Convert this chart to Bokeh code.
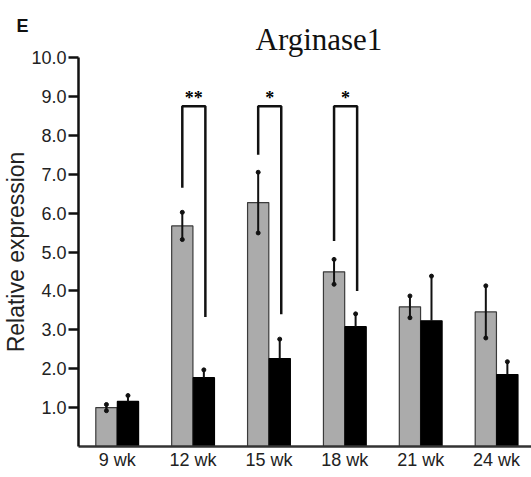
from bokeh.plotting import figure
from bokeh.models import Range1d, FixedTicker, Title, CustomJSTickFormatter
from bokeh.core.properties import value
from bokeh.embed import file_html
from bokeh.resources import INLINE

# ---- data ----
weeks = ["9 wk", "12 wk", "15 wk", "18 wk", "21 wk", "24 wk"]
gray_vals = [1.0, 5.67, 6.27, 4.49, 3.59, 3.46]
gray_err = [0.08, 0.35, 0.78, 0.32, 0.28, 0.67]
black_vals = [1.16, 1.77, 2.26, 3.08, 3.23, 1.85]
black_err = [0.15, 0.2, 0.5, 0.33, 1.15, 0.33]
y_ticks = [1, 2, 3, 4, 5, 6, 7, 8, 9, 10]

sig_groups = [1, 2, 3]
sig_left_bottom = [6.65, 7.5, 5.28]
sig_right_bottom = [3.33, 3.4, 4.0]
sig_top = [8.75, 8.75, 8.75]
sig_stars = ["**", "*", "*"]
sig_star_y = [8.95, 8.95, 8.95]

title_text = "Arginase1"
panel_letter = "E"
y_label = "Relative expression"

OFF = 0.142
W = 0.28

xs = list(range(len(weeks)))
gx = [x - OFF for x in xs]
bx = [x + OFF for x in xs]

p = figure(width=531, height=472, output_backend="svg", toolbar_location=None,
           x_range=Range1d(-0.51, 5.46), y_range=Range1d(0, 10))
p.min_border_left = 60
p.min_border_right = 0
p.min_border_top = 0
p.min_border_bottom = 0
p.outline_line_color = None
p.grid.visible = False
p.background_fill_color = "white"

# bars
p.vbar(x=gx, top=gray_vals, width=W, bottom=0, fill_color="#ababab", line_color="#3a3a3a", line_width=1.2)
g_lo = [v - e for v, e in zip(gray_vals, gray_err)]
g_hi = [v + e for v, e in zip(gray_vals, gray_err)]
p.segment(x0=gx, x1=gx, y0=g_lo, y1=g_hi, line_color="#111111", line_width=2)
p.scatter(x=gx + gx, y=g_lo + g_hi, size=4, color="#111111")

p.vbar(x=bx, top=black_vals, width=W, bottom=0, fill_color="#000000", line_color="#000000", line_width=1.2)
b_hi = [v + e for v, e in zip(black_vals, black_err)]
p.segment(x0=bx, x1=bx, y0=black_vals, y1=b_hi, line_color="#111111", line_width=2)
p.scatter(x=bx, y=b_hi, size=4, color="#111111")

# significance brackets
bxs, bys = [], []
for g, lb, rb, t in zip(sig_groups, sig_left_bottom, sig_right_bottom, sig_top):
    lx = g - OFF
    rx = g + OFF + 0.02
    bxs.append([lx, lx, rx, rx])
    bys.append([lb, t, t, rb])
p.multi_line(xs=bxs, ys=bys, line_color="#111111", line_width=2.5)
p.text(x=[g + 0.01 for g in sig_groups], y=sig_star_y, text=sig_stars,
       text_align="center", text_baseline="alphabetic", text_font=value("Liberation Serif"),
       text_font_size="18px", text_font_style="bold", text_color="#000000")

# axes
yax = p.yaxis[0]
yax.ticker = FixedTicker(ticks=y_ticks)
yax.formatter = CustomJSTickFormatter(code="return tick.toFixed(1);")
yax.major_tick_out = 10
yax.major_tick_in = 0
yax.minor_tick_line_color = None
yax.axis_line_width = 2.5
yax.major_tick_line_width = 2.5
yax.axis_line_color = "#111111"
yax.major_tick_line_color = "#111111"
yax.major_label_text_font = "Liberation Sans"
yax.major_label_text_font_size = "18px"
yax.major_label_text_color = "#222222"
yax.major_label_standoff = 2
yax.axis_label = y_label
yax.axis_label_text_font = "Liberation Sans"
yax.axis_label_text_font_size = "23px"
yax.axis_label_text_font_style = "normal"
yax.axis_label_text_color = "#222222"
yax.axis_label_standoff = -1

xax = p.xaxis[0]
xax.ticker = FixedTicker(ticks=xs)
xax.major_label_overrides = {i: w for i, w in enumerate(weeks)}
xax.major_tick_out = 0
xax.major_tick_in = 0
xax.minor_tick_out = 0
xax.minor_tick_in = 0
xax.minor_tick_line_color = None
xax.axis_label_standoff = 0
xax.axis_line_width = 2.5
xax.axis_line_color = "#333333"
xax.major_label_text_font = "Liberation Sans"
xax.major_label_text_font_size = "18px"
xax.major_label_text_color = "#222222"
xax.major_label_standoff = 3

# panel letter (outermost) & title
p.title.text = "\n" + panel_letter
p.title.align = "left"
p.title.offset = -62
p.title.standoff = -34
p.title.text_font = "Liberation Sans"
p.title.text_font_size = "18px"
p.title.text_line_height = 1.5
p.title.text_font_style = "bold"
p.title.text_color = "#111111"
p.add_layout(Title(text=title_text, align="left", offset=177, standoff=2,
                   text_font="Liberation Serif", text_font_size="31px", text_font_style="normal",
                   text_color="#111111"), "above")

open("out.html", "w").write(file_html(p, INLINE))
